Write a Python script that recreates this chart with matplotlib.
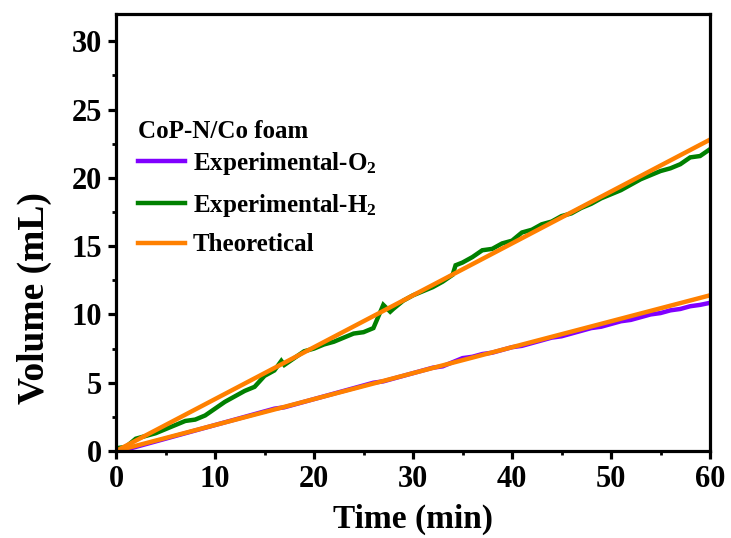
import matplotlib
matplotlib.use("Agg")
import matplotlib.pyplot as plt
from matplotlib.ticker import MultipleLocator

plt.rcParams['font.family'] = ['Liberation Serif', 'DejaVu Serif']
plt.rcParams['font.weight'] = 'bold'
plt.rcParams['mathtext.fontset'] = 'custom'
plt.rcParams['mathtext.rm'] = 'Liberation Serif:bold'
plt.rcParams['mathtext.it'] = 'Liberation Serif:bold'
plt.rcParams['mathtext.bf'] = 'Liberation Serif:bold'
plt.rcParams['mathtext.default'] = 'rm'

# ---- data ----
t_h2 = [0, 1, 2, 3, 4, 5, 6, 7, 8, 9, 10, 11, 12, 13, 14, 15, 16, 16.7, 17, 18, 19, 20,
        21, 22, 23, 24, 25, 26, 27, 27.7, 28, 29, 30, 31, 32, 33, 34, 34.3, 35, 36, 37, 38,
        39, 40, 41, 42, 43, 44, 45, 46, 47, 48, 49, 50, 51, 52, 53, 54, 55, 56, 57, 58, 59, 60]
v_h2 = [0.2, 0.3, 0.9, 1.1, 1.3, 1.6, 1.9, 2.2, 2.3, 2.6, 3.1, 3.6, 4.0, 4.4, 4.7, 5.5, 5.9, 6.6, 6.3, 6.8, 7.3, 7.5,
        7.8, 8.0, 8.3, 8.6, 8.7, 9.0, 10.7, 10.2, 10.4, 11.0, 11.4, 11.7, 12.0, 12.4, 12.9, 13.6, 13.8, 14.2, 14.7, 14.8,
        15.2, 15.4, 16.0, 16.2, 16.6, 16.8, 17.2, 17.4, 17.8, 18.1, 18.5, 18.8, 19.1, 19.5, 19.9, 20.2, 20.5, 20.7, 21.0, 21.5, 21.6, 22.1]

t_o2 = list(range(0, 61))
v_o2 = [0.0, 0.1, 0.3, 0.5, 0.7, 0.9, 1.1, 1.3, 1.5, 1.7, 1.9, 2.1, 2.3, 2.5, 2.7, 2.9, 3.1, 3.2, 3.4, 3.6, 3.8,
        4.0, 4.2, 4.4, 4.6, 4.8, 5.0, 5.1, 5.3, 5.5, 5.7, 5.9, 6.1, 6.2, 6.5, 6.8, 6.9, 7.1, 7.2, 7.4, 7.6,
        7.7, 7.9, 8.1, 8.3, 8.4, 8.6, 8.8, 9.0, 9.1, 9.3, 9.5, 9.6, 9.8, 10.0, 10.1, 10.3, 10.4, 10.6, 10.7, 10.85]

t_theo = [0, 60]
v_theo_h2 = [0, 22.8]
v_theo_o2 = [0, 11.4]

labels = ['Experimental-O$_2$', 'Experimental-H$_2$', 'Theoretical']
legend_title = 'CoP-N/Co foam'

c_o2 = '#8000FF'
c_h2 = '#008000'
c_th = '#FF8000'

fig = plt.figure(figsize=(7.31, 5.38), dpi=100)
ax = fig.add_axes([116/731, 1-451/538, (710-116)/731, (451-14)/538])

lo2, = ax.plot(t_o2, v_o2, color=c_o2, lw=3.2, label=labels[0], solid_joinstyle='miter')
lh2, = ax.plot(t_h2, v_h2, color=c_h2, lw=3.2, label=labels[1], solid_joinstyle='miter')
lth, = ax.plot(t_theo, v_theo_h2, color=c_th, lw=3.2, label=labels[2])
ax.plot(t_theo, v_theo_o2, color=c_th, lw=3.2)

ax.set_xlim(0, 60)
ax.set_ylim(0, 32)
ax.xaxis.set_major_locator(MultipleLocator(10))
ax.xaxis.set_minor_locator(MultipleLocator(5))
ax.yaxis.set_major_locator(MultipleLocator(5))
ax.yaxis.set_minor_locator(MultipleLocator(2.5))

for s in ax.spines.values():
    s.set_linewidth(2.3)
ax.tick_params(which='major', direction='out', length=6, width=2.3, labelsize=22, pad=4)
ax.tick_params(which='minor', direction='out', length=3, width=2.0)
ax.tick_params(top=False, right=False)
for lab in ax.get_xticklabels() + ax.get_yticklabels():
    lab.set_fontweight('bold')

ax.set_xlabel('Time (min)', fontsize=24, fontweight='bold', labelpad=7)
ax.set_ylabel('Volume (mL)', fontsize=27, fontweight='bold')
ax.yaxis.set_label_coords(-0.108, 0.35)

ax.text(0.037, 0.730, legend_title, transform=ax.transAxes, fontsize=18,
        fontweight='bold', ha='left', va='center')
leg = ax.legend(handles=[lo2, lh2, lth], loc='upper left',
                bbox_to_anchor=(0.02, 0.712), frameon=False, fontsize=18,
                handlelength=1.9, handletextpad=0.3, labelspacing=0.59,
                borderaxespad=0)
for txt in leg.get_texts():
    txt.set_fontweight('bold')

fig.savefig('out.png', dpi=100)
